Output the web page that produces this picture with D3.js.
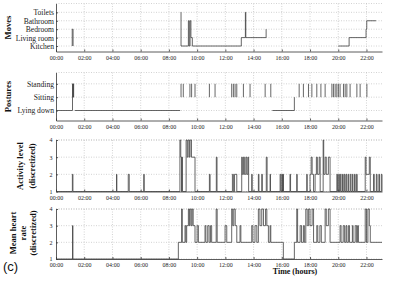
<!DOCTYPE html>
<html lang="en">
<head>
<meta charset="UTF-8" />
<title>Daily activity traces (c)</title>
<script src="https://cdn.jsdelivr.net/npm/d3@7"></script>
<style>
  body { margin: 0; background: #fff; }
  svg { display: block; font-family: "Liberation Serif", "Times New Roman", serif; }
  .grid line { stroke: #b5b5b5; stroke-width: 0.6; stroke-dasharray: 1 1.5; }
  .axis path, .axis line { stroke: #333; stroke-width: 0.8; }
  .axis text { font-size: 6px; fill: #222; }
  .cat text { font-size: 7.6px; }
  .trace { fill: none; stroke: #404040; stroke-width: 0.8; }
  .title { font-weight: bold; font-size: 8.6px; fill: #111; }
</style>
</head>
<body>
<div id="chart"></div>
<script>
// tick labels on every time axis
const timeTicks = ["00:00","02:00","04:00","06:00","08:00","10:00","12:00","14:00","16:00","18:00","20:00","22:00"];

// categories (bottom to top)
const rooms = ["Kitchen", "Living room", "Bedroom", "Bathroom", "Toilets"];
const postures = ["Lying down", "Sitting", "Standing"];
const levels = [1, 2, 3, 4];

// moves: runs of [hour, room index], gaps between runs = no data
const movesRuns = [
  [[1.15, 0], [1.15, 2], [1.21, 2], [1.21, 0]],
  [[8.84, 4], [8.86, 0], [9.38, 3], [9.44, 0], [9.5, 3], [9.56, 1], [9.66, 0], [13.13, 1], [13.42, 4], [13.45, 1], [14.89, 2]],
  [[20.0, 0], [20.77, 1], [21.97, 2], [22.02, 3], [22.68, 3]]
];

// postures: continuous runs of [hour, posture index]
const postureRuns = [
  [[0, 0], [1.17, 2], [1.2, 1], [1.23, 2], [1.25, 1]],
  [[1.33, 0], [8.8, 0]],
  [[15.33, 0], [16.89, 1]]
];
// short sitting <-> standing switches (hour)
const postureSwitches = [8.86, 9.02, 9.49, 9.61, 9.85, 10.87, 11.27, 12.45, 12.57, 12.69, 12.81,
  13.28, 13.75, 14.82, 15.22, 17.23, 17.53, 17.89, 18.13, 18.48, 18.77, 19.07, 19.55, 19.66,
  19.78, 19.9, 20.01, 20.13, 20.37, 20.49, 20.61, 20.84, 21.32, 21.55, 22.03];

// activity level (discretized): step change points
const activityTimes = [0, 1.16, 1.2, 4.29, 4.31, 5.12, 5.19, 6.22, 6.25, 8.78, 8.84, 8.9, 8.92, 8.96,
  9.22, 9.3, 9.36, 9.45, 9.5, 9.6, 9.85, 10.87, 10.92, 11.36, 11.41, 12.5, 12.57, 12.65, 12.81,
  13.16, 13.2, 13.28, 13.35, 13.45, 13.52, 13.6, 13.65, 13.87, 13.9, 14.34, 14.38, 14.58, 14.62,
  14.9, 14.96, 15.17, 15.2, 15.88, 15.93, 16.0, 16.05, 16.09, 16.12, 16.58, 16.62, 17.06, 17.09,
  17.77, 17.8, 18.0, 18.08, 18.15, 18.25, 18.36, 18.45, 18.52, 18.65, 18.72, 18.93, 18.97, 19.07,
  19.15, 19.3, 19.42, 19.9, 19.95, 20.03, 20.08, 20.15, 20.2, 20.3, 20.34, 20.42, 20.47, 20.55,
  20.6, 20.7, 20.74, 20.85, 20.9, 21.0, 21.04, 21.15, 21.2, 21.3, 21.34, 21.91, 21.97, 22.2,
  22.27, 22.5, 22.55, 22.7, 22.75, 22.88, 22.92, 23.05, 23.1];
const activityLevels = [1, 2, 1, 2, 1, 2, 1, 2, 1, 4, 3, 1, 3, 1,
  4, 3, 4, 3, 4, 3, 1, 2, 1, 3, 1, 2, 1, 2, 1,
  3, 2, 3, 2, 3, 2, 3, 1, 2, 1, 2, 1, 2, 1,
  3, 1, 2, 1, 2, 1, 2, 1, 2, 1, 2, 1, 2, 1,
  2, 1, 2, 3, 2, 1, 2, 3, 2, 3, 1, 4, 2, 3,
  2, 3, 1, 2, 1, 2, 1, 2, 1, 2, 1, 2, 1, 2,
  1, 2, 1, 2, 1, 2, 1, 2, 1, 2, 1, 3, 2, 3,
  1, 2, 1, 2, 1, 2, 1, 2, 1];

// mean heart rate (discretized): step change points
const heartTimes = [0, 1.17, 1.2, 8.67, 8.9, 8.95, 9.14, 9.2, 9.26, 9.38, 9.45, 9.5, 9.58, 9.65, 9.72,
  9.85, 10.0, 10.09, 10.56, 10.62, 10.75, 10.85, 10.95, 11.03, 11.35, 11.42, 11.98, 12.1, 12.45,
  12.52, 12.6, 12.7, 12.81, 13.04, 13.1, 13.87, 13.95, 14.1, 14.23, 14.34, 14.45, 14.58, 14.7,
  14.85, 14.94, 15.05, 15.17, 15.22, 16.11, 16.89, 17.06, 17.12, 17.3, 17.4, 17.53, 17.6, 17.7,
  17.8, 17.9, 18.0, 18.15, 18.25, 18.48, 18.55, 18.7, 18.8, 19.07, 19.15, 19.3, 19.42, 20.13,
  20.2, 20.35, 20.45, 20.55, 20.61, 20.72, 20.8, 21.0, 21.05, 21.2, 21.3, 21.37, 21.43, 21.91,
  22.0, 22.1, 22.2, 22.27, 23.1];
const heartLevels = [1, 3, 1, 2, 4, 2, 3, 2, 3, 4, 3, 4, 3, 4, 3,
  2, 3, 2, 3, 2, 3, 2, 3, 2, 4, 2, 3, 2, 4,
  3, 4, 3, 2, 3, 2, 3, 2, 3, 2, 4, 3, 4, 3,
  4, 3, 2, 3, 2, 1, 2, 4, 2, 3, 2, 3, 2, 4,
  3, 4, 3, 4, 2, 3, 2, 3, 2, 4, 3, 4, 2, 3,
  2, 3, 2, 3, 2, 3, 2, 3, 2, 3, 2, 3, 2, 4,
  2, 4, 3, 2, 2];

const W = 402, H = 282;
const svg = d3.select("#chart").append("svg").attr("width", W).attr("height", H);

const tickHours = timeTicks.map(t => +t.slice(0, 2));
const x = d3.scaleLinear().domain([0, 23.1]).range([56, 382]);

// y scales, one per panel
const yMoves = d3.scaleLinear().domain([-0.65, 5.05]).range([51.5, 3.5]);
const yPost = d3.scaleLinear().domain([-0.75, 2.85]).range([120.5, 72.5]);
const yAct = d3.scaleLinear().domain([1, 4]).range([191.5, 140]);
const yHr = d3.scaleLinear().domain([1, 4]).range([259, 209]);

const stepLine = y => d3.line().x(d => x(d[0])).y(d => y(d[1])).curve(d3.curveStepAfter);

function frame(y, yTicks, yFormat, cls) {
  const [bot, top] = y.range();
  const g = svg.append("g");
  const grid = g.append("g").attr("class", "grid");
  grid.selectAll(".v").data(tickHours.filter(h => h > 0)).enter().append("line")
    .attr("x1", d => x(d)).attr("x2", d => x(d)).attr("y1", top).attr("y2", bot);
  grid.selectAll(".h").data(yTicks.map(y).concat([top])).enter().append("line")
    .attr("x1", x.range()[0]).attr("x2", x.range()[1]).attr("y1", d => d).attr("y2", d => d);

  g.append("g").attr("class", "axis")
    .attr("transform", `translate(0,${bot})`)
    .call(d3.axisBottom(x).tickValues(tickHours).tickFormat((d, i) => timeTicks[i])
      .tickSizeInner(-2).tickSizeOuter(0).tickPadding(4));
  g.append("g").attr("class", "axis " + (cls || ""))
    .attr("transform", `translate(${x.range()[0]},0)`)
    .call(d3.axisLeft(y).tickValues(yTicks).tickFormat(yFormat)
      .tickSizeInner(-2).tickSizeOuter(0).tickPadding(cls ? 2 : 3.5));
  g.selectAll(".axis").attr("font-family", null).attr("font-size", null);
  return g;
}

// Moves
const gM = frame(yMoves, d3.range(rooms.length), i => rooms[i], "cat");
gM.selectAll(".run").data(movesRuns).enter().append("path")
  .attr("class", "trace").attr("d", stepLine(yMoves));

// Postures
const gP = frame(yPost, d3.range(postures.length), i => postures[i], "cat");
gP.selectAll(".run").data(postureRuns).enter().append("path")
  .attr("class", "trace").attr("d", stepLine(yPost));
gP.selectAll(".sw").data(postureSwitches).enter().append("line")
  .attr("class", "trace")
  .attr("x1", d => x(d)).attr("x2", d => x(d))
  .attr("y1", yPost(1)).attr("y2", yPost(2));

// Activity level
const gA = frame(yAct, levels, d3.format("d"));
gA.append("path").attr("class", "trace")
  .attr("d", stepLine(yAct)(activityTimes.map((t, i) => [t, activityLevels[i]])));

// Mean heart rate
const gH = frame(yHr, levels, d3.format("d"));
gH.append("path").attr("class", "trace")
  .attr("d", stepLine(yHr)(heartTimes.map((t, i) => [t, heartLevels[i]])));

// y titles
function vtitle(lines, cx, cy, gap) {
  lines.forEach((s, i) => {
    const xx = cx + (i - (lines.length - 1) / 2) * gap;
    svg.append("text").attr("class", "title")
      .attr("transform", `translate(${xx},${cy}) rotate(-90)`)
      .attr("text-anchor", "middle").attr("dy", "0.35em").text(s);
  });
}
vtitle(["Moves"], 8, 27.5, 0);
vtitle(["Postures"], 8, 96.5, 0);
vtitle(["Activity level", "(discretized)"], 26, 166, 11.5);
vtitle(["Mean heart", "rate", "(discretized)"], 23, 233, 10);

svg.append("text").attr("class", "title").style("font-size", "8px")
  .attr("x", 295).attr("y", 274).attr("text-anchor", "middle").text("Time (hours)");

svg.append("text").attr("x", 3).attr("y", 271)
  .style("font-family", "'Liberation Sans', Arial, sans-serif").style("font-size", "13px")
  .attr("fill", "#111").text("(c)");
</script>
</body>
</html>
